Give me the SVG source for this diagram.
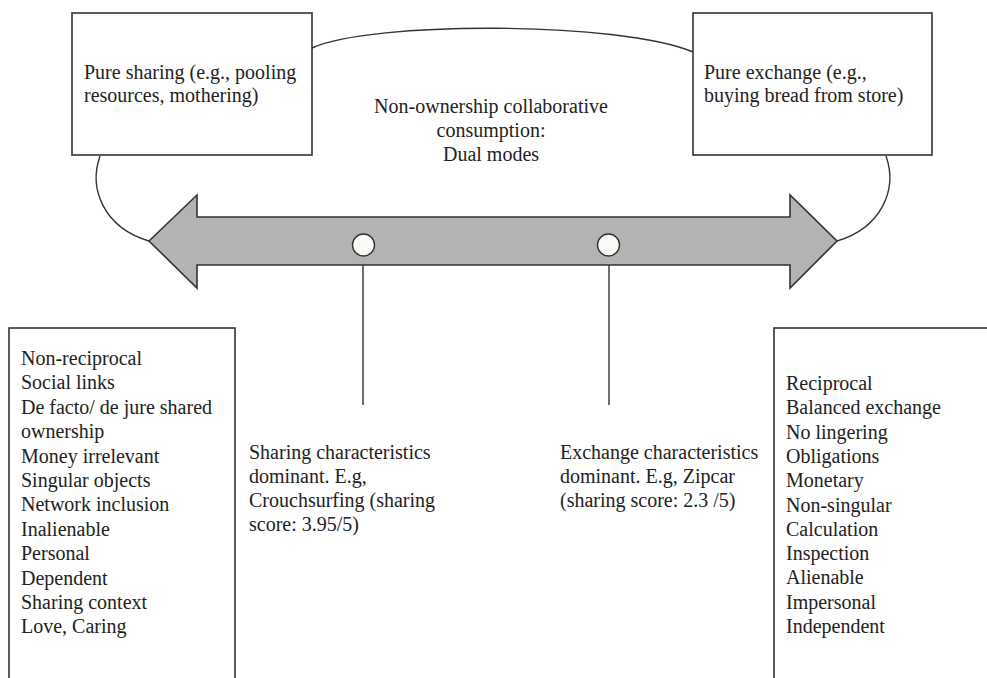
<svg xmlns="http://www.w3.org/2000/svg" width="987" height="678" viewBox="0 0 987 678">
<style>
.box{fill:#fff;stroke:#333;stroke-width:1.6}
.ln{fill:none;stroke:#333;stroke-width:1.4}
.t{font-family:"Liberation Serif","Times New Roman",serif;font-size:20px;fill:#222}
.m{text-anchor:middle}
</style>
<rect width="987" height="678" fill="#fff"/>
<g id="connectors">
<path class="ln" d="M312,48 C370,21 620,21 693,52"/>
<path class="ln" d="M100,156 C88,190 105,228 149,241"/>
<path class="ln" d="M886,156 C898,190 881,228 837,241"/>
<line class="ln" x1="363" y1="256" x2="363" y2="405"/>
<line class="ln" x1="609" y1="256" x2="609" y2="405"/>
</g>
<g id="arrow">
<polygon points="149,241 197,195 197,217 790,217 790,195 837,241 790,288 790,265 197,265 197,288" fill="#b3b3b3" stroke="#333" stroke-width="1.6" stroke-linejoin="miter"/>
</g>
<g id="dot-sharing"><circle cx="363.5" cy="245" r="11" fill="#fbfaf6" stroke="#333" stroke-width="1.4"/></g>
<g id="dot-exchange"><circle cx="608.5" cy="245" r="11" fill="#fbfaf6" stroke="#333" stroke-width="1.4"/></g>
<g id="pure-sharing">
<rect class="box" x="72" y="13" width="240" height="142"/>
<text class="t" x="84" y="79">Pure sharing (e.g., pooling</text>
<text class="t" x="84" y="102">resources, mothering)</text>
</g>
<g id="pure-exchange">
<rect class="box" x="693" y="13" width="239" height="142"/>
<text class="t" x="704" y="79">Pure exchange (e.g.,</text>
<text class="t" x="704" y="102">buying bread from store)</text>
</g>
<g id="title">
<text class="t m" x="491" y="113">Non-ownership collaborative</text>
<text class="t m" x="491" y="137">consumption:</text>
<text class="t m" x="491" y="161">Dual modes</text>
</g>
<g id="sharing-list">
<rect class="box" x="9" y="328" width="226" height="360"/>
<text class="t" x="21" y="365">Non-reciprocal</text>
<text class="t" x="21" y="389.4">Social links</text>
<text class="t" x="21" y="413.8">De facto/ de jure shared</text>
<text class="t" x="21" y="438.2">ownership</text>
<text class="t" x="21" y="462.6">Money irrelevant</text>
<text class="t" x="21" y="487">Singular objects</text>
<text class="t" x="21" y="511.4">Network inclusion</text>
<text class="t" x="21" y="535.8">Inalienable</text>
<text class="t" x="21" y="560.2">Personal</text>
<text class="t" x="21" y="584.6">Dependent</text>
<text class="t" x="21" y="609">Sharing context</text>
<text class="t" x="21" y="633.4">Love, Caring</text>
</g>
<g id="exchange-list">
<rect class="box" x="774" y="328" width="230" height="360"/>
<text class="t" x="786" y="390">Reciprocal</text>
<text class="t" x="786" y="414.3">Balanced exchange</text>
<text class="t" x="786" y="438.6">No lingering</text>
<text class="t" x="786" y="462.9">Obligations</text>
<text class="t" x="786" y="487.2">Monetary</text>
<text class="t" x="786" y="511.5">Non-singular</text>
<text class="t" x="786" y="535.8">Calculation</text>
<text class="t" x="786" y="560.1">Inspection</text>
<text class="t" x="786" y="584.4">Alienable</text>
<text class="t" x="786" y="608.7">Impersonal</text>
<text class="t" x="786" y="633">Independent</text>
</g>
<g id="sharing-dominant">
<text class="t" x="249" y="458.5">Sharing characteristics</text>
<text class="t" x="249" y="482.8">dominant. E.g,</text>
<text class="t" x="249" y="507.1">Crouchsurfing (sharing</text>
<text class="t" x="249" y="531.4">score: 3.95/5)</text>
</g>
<g id="exchange-dominant">
<text class="t" x="560" y="458.5">Exchange characteristics</text>
<text class="t" x="560" y="482.8">dominant. E.g, Zipcar</text>
<text class="t" x="560" y="507.1">(sharing score: 2.3 /5)</text>
</g>
</svg>
